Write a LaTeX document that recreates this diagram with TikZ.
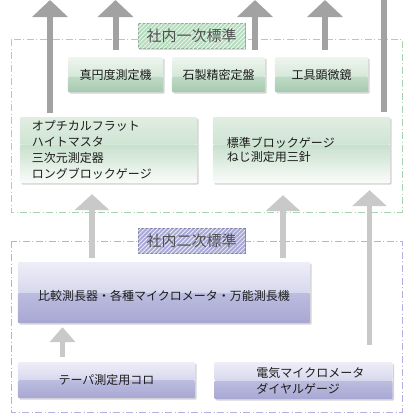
\documentclass[tikz,border=0pt]{standalone}
\usepackage{fontspec}
\newfontfamily\jpfont{Noto Sans CJK JP}
\usetikzlibrary{arrows.meta,shadows,patterns.meta,calc}

\definecolor{arrowdark}{HTML}{A2A2A2}
\definecolor{arrowlight}{HTML}{C9C9C9}
\definecolor{framegreen}{HTML}{A6D4B0}
\definecolor{frameblue}{HTML}{B2B2E2}
\definecolor{tagtext}{HTML}{505050}
\definecolor{boxtext}{HTML}{1C1C1C}
% gloss colours: top of upper half, bottom of upper half, top of lower half, bottom of lower half
\definecolor{mintA}{HTML}{EEF6EF}
\definecolor{mintB}{HTML}{D6E8D9}
\definecolor{mintC}{HTML}{BFDBC6}
\definecolor{mintD}{HTML}{A6CAB0}
\definecolor{paleA}{HTML}{E0EEE2}
\definecolor{paleB}{HTML}{CFE4D3}
\definecolor{paleC}{HTML}{C8E0CD}
\definecolor{paleD}{HTML}{FAFCFA}
\definecolor{lilacA}{HTML}{EEEEF8}
\definecolor{lilacB}{HTML}{D8D8EE}
\definecolor{lilacC}{HTML}{BDBDE0}
\definecolor{lilacD}{HTML}{A7A7D3}
\definecolor{taggreen}{HTML}{B6DCBE}
\definecolor{tagblue}{HTML}{A9A9D8}

\tikzset{
  glossbox/.style n args={5}{fill=white, rounded corners=1bp,
    drop shadow={shadow xshift=1.5bp, shadow yshift=-1.5bp, opacity=0.35},
    path picture={
      \coordinate (gtop) at (path picture bounding box.north west);
      \coordinate (gbot) at (path picture bounding box.south east);
      \coordinate (gmid) at ($(gtop)!#5!(gbot)$);
      \shade[top color=#1, bottom color=#2] (gtop) rectangle (gbot |- gmid);
      \shade[top color=#3, bottom color=#4] (gtop |- gmid) rectangle (gbot);
    }},
  mintbox/.style={glossbox={mintA}{mintB}{mintC}{mintD}{0.55}},
  palebox/.style={glossbox={paleA}{paleB}{paleC}{paleD}{0.42}},
  lilacbox/.style={glossbox={lilacA}{lilacB}{lilacC}{lilacD}{0.5}},
}

\begin{document}
\begin{tikzpicture}[x=1bp, y=-1bp,
  jp/.style={font=\jpfont\fontsize{12bp}{16bp}\selectfont, text=boxtext, inner ysep=1bp},
  frame/.style={draw=#1, line width=0.7bp, dash pattern=on 7bp off 2.5bp on 1bp off 2.5bp},
  tag/.style={fill=#1, draw=#1!80!black, line width=0.4bp,
    minimum width=107bp, minimum height=25bp, inner sep=0pt,
    font=\jpfont\fontsize{15bp}{15bp}\selectfont, text=tagtext,
    drop shadow={shadow xshift=1bp, shadow yshift=-1bp, opacity=0.3},
    postaction={pattern={Lines[angle=45, distance=3bp, line width=0.8bp]}, pattern color=white!80!#1}},
  liftdark/.style={draw=arrowdark, line width=6bp, -{Triangle[length=17bp, width=35bp]}},
  liftlight/.style={draw=arrowlight, line width=6.5bp, -{Triangle[length=16bp, width=34bp]}},
  liftsmall/.style={draw=arrowlight, line width=5bp, -{Triangle[length=15bp, width=25bp]}}]
  \useasboundingbox (0,0) rectangle (410,420);

  % dashed frames of the two levels
  \draw[frame=framegreen] (11,39) rectangle (402,212);
  \draw[frame=frameblue] (11,241) rectangle (402,412);

  \node[tag=taggreen] (lab1) at (191.5,36) {社内一次標準};
  \node[tag=tagblue] (lab2) at (191.5,240.5) {社内二次標準};

  % first level
  \node[mintbox, jp, minimum width=95bp, minimum height=35bp] (b1) at (115.5,74.5) {真円度測定機};
  \node[mintbox, jp, minimum width=93bp, minimum height=35bp] (b2) at (218.5,74.5) {石製精密定盤};
  \node[mintbox, jp, minimum width=93bp, minimum height=35bp] (b3) at (321.5,74.5) {工具顕微鏡};
  \node[palebox, jp, align=left, text width=153bp, inner xsep=12bp, minimum height=66bp] (g1) at (108.5,150)
    {オプチカルフラット\\ハイトマスタ\\三次元測定器\\ロングブロックゲージ};
  \node[palebox, jp, align=left, text width=149bp, inner xsep=14bp, minimum height=66bp,
    font=\jpfont\fontsize{12bp}{14.5bp}\selectfont] (g2) at (301.5,150)
    {標準ブロックゲージ\\ねじ測定用三針};

  % second level
  \node[lilacbox, jp, minimum width=292bp, minimum height=61bp, text height=18bp, text depth=2bp] (p1) at (164,292.5)
    {比較測長器・各種マイクロメータ・万能測長機};
  \node[lilacbox, jp, minimum width=177bp, minimum height=36bp] (p2) at (106.5,380) {テーパ測定用コロ};
  \node[lilacbox, jp, align=left, text width=150bp, inner xsep=14bp, minimum height=37bp] (p3) at (303.5,380.5)
    {\hspace*{28bp}電気マイクロメータ\\\hspace*{28bp}ダイヤルゲージ};

  % arrows
  \coordinate (t1) at (50,0);
  \coordinate (t2) at (115.5,0);
  \coordinate (t3) at (255,0);
  \coordinate (t4) at (325,0);
  \coordinate (t5) at (383.5,0);
  \coordinate (c1) at (92,0);
  \coordinate (c2) at (283,0);
  \coordinate (c3) at (369.5,0);
  \coordinate (c4) at (62.5,0);

  \draw[liftdark, shorten <=4bp] (g1.north -| t1) -- (t1);
  \draw[liftdark, shorten <=7bp] (b1.north -| t2) -- (t2);
  \draw[liftdark, shorten <=7bp] (b2.north -| t3) -- (t3);
  \draw[liftdark, shorten <=7bp] (b3.north -| t4) -- (t4);
  \draw[liftdark, -, shorten <=5bp] (g2.north -| t5) -- (t5);

  \draw[liftlight, shorten <=4bp, shorten >=11bp] (p1.north -| c1) -- (g1.south -| c1);
  \draw[liftlight, shorten <=4bp, shorten >=12bp] (p1.north -| c2) -- (g2.south -| c2);
  \draw[liftlight, line width=5.5bp, shorten <=17bp, shorten >=7bp] (p3.north -| c3) -- (g2.south -| c3);
  \draw[liftsmall, shorten <=5bp, shorten >=4bp] (p2.north -| c4) -- (p1.south -| c4);
\end{tikzpicture}
\end{document}
